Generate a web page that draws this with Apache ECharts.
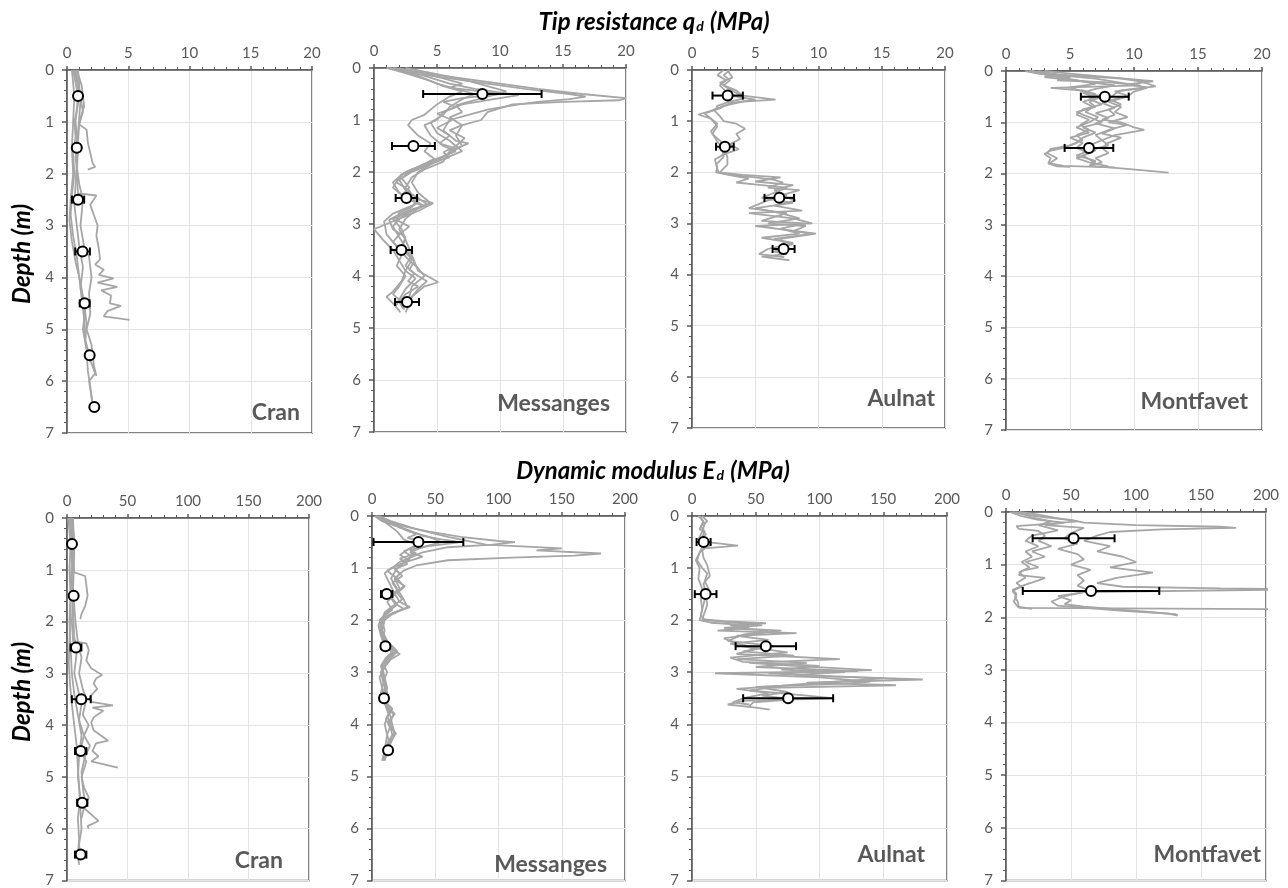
<!DOCTYPE html>
<html><head><meta charset="utf-8">
<script src="https://cdn.jsdelivr.net/npm/echarts@6/dist/echarts.min.js"></script>
<style>html,body{margin:0;padding:0;background:#fff}#c{width:1288px;height:888px}</style>
</head><body><div id="c"></div>
<script>
// ---------- DATA ----------
const SITES = ['Cran', 'Messanges', 'Aulnat', 'Montfavet'];
const QD_TICKS = [0, 5, 10, 15, 20];
const ED_TICKS = [0, 50, 100, 150, 200];
const DEPTH_TICKS = [0, 1, 2, 3, 4, 5, 6, 7];

// profiles: [value, depth]
const qdCran = [
  [[0.6,0],[0.8,0.2],[1.0,0.5],[0.8,0.8],[0.6,1.0],[0.7,1.3],[0.5,1.6],[0.6,2.0],[0.4,2.4],[0.3,2.8],[0.5,3.2],[0.8,3.6],[1.0,4.0],[1.2,4.4],[1.4,4.8],[1.5,5.2],[1.9,5.6],[2.3,5.85],[1.8,6.0],[2.0,6.3],[2.2,6.6]],
  [[0.8,0],[1.2,0.3],[1.4,0.7],[1.0,1.0],[0.9,1.4],[0.8,1.8],[0.7,2.2],[0.6,2.6],[0.8,3.0],[1.0,3.4],[1.3,3.8],[1.1,4.2],[1.5,4.6],[1.3,5.0],[1.6,5.4],[1.7,5.8],[1.9,6.1],[2.1,6.5]],
  [[0.7,0],[1.0,0.4],[1.3,0.8],[1.0,1.05],[1.6,1.15],[1.7,1.4],[1.9,1.6],[2.1,1.8],[2.3,1.87],[1.7,1.92]],
  [[0.5,0],[0.9,0.5],[0.7,1.0],[0.9,1.5],[0.8,2.0],[0.9,2.38],[2.4,2.42],[1.9,2.6],[2.2,2.8],[2.5,3.0],[2.4,3.2],[2.6,3.45],[2.7,3.65],[2.3,3.75],[3.0,3.85],[2.6,3.95],[3.8,4.02],[2.5,4.1],[4.1,4.18],[2.8,4.25],[3.6,4.35],[3.5,4.5],[4.4,4.55],[3.3,4.65],[3.0,4.75],[5.1,4.82]],
  [[0.4,0],[0.6,0.5],[0.5,1.0],[0.4,1.5],[0.5,2.0],[0.3,2.5],[0.2,2.9],[0.4,3.3],[0.7,3.7],[1.1,4.1],[1.4,4.5],[1.6,4.9],[1.5,5.2]],
  [[0.9,0],[1.1,0.6],[0.9,1.2],[0.7,1.7],[1.0,2.2],[1.3,2.5],[1.1,3.0],[1.4,3.4],[1.8,3.6],[2.0,4.0],[1.8,4.3],[1.9,4.7],[1.6,5.0],[2.0,5.3],[2.2,5.7],[2.4,5.9]]
];
const qdMessanges = [
  [[1.5,0],[4,0.1],[7,0.2],[10,0.3],[13,0.4],[16.5,0.5],[20,0.58],[19.5,0.62],[15,0.65],[11,0.7],[9,0.85],[8.5,1.0],[7,1.1],[6.5,1.3],[7,1.5],[5.5,1.7],[4.5,1.85],[3.5,2.0],[3,2.2],[3.5,2.4],[4.5,2.6],[3.5,2.7],[2.5,2.9],[2,3.1],[2.5,3.3],[3,3.6],[3.5,3.9],[5.1,4.12],[4,4.2],[3,4.4],[2.7,4.6],[2.5,4.7]],
  [[1.2,0],[3,0.1],[6,0.2],[9,0.3],[12,0.4],[15.5,0.5],[16.8,0.55],[15.5,0.6],[13,0.65],[11.5,0.7],[9,0.8],[7.5,0.9],[6,1.0],[5.5,1.2],[6.5,1.4],[7.5,1.45],[6,1.6],[5.5,1.8],[4,1.95],[3,2.1],[2.5,2.3],[3,2.5],[4.7,2.6],[3.5,2.75],[2.5,2.85],[1,3.0],[0,3.1],[0.7,3.3],[1.5,3.5],[2,3.7],[2.5,3.9],[2.2,4.1],[1.5,4.3],[1,4.4],[1.6,4.55],[2.1,4.7]],
  [[2,0],[4,0.15],[6,0.3],[8,0.4],[11.5,0.52],[9.5,0.6],[7,0.7],[5.5,0.85],[5,1.0],[4,1.1],[4.5,1.3],[5.5,1.5],[6.5,1.6],[5,1.75],[3.5,1.9],[2.5,2.0],[2,2.1],[1.5,2.3],[2.5,2.5],[3.5,2.6],[2.5,2.7],[1.5,2.8],[0.8,2.95],[1,3.2],[1.7,3.4],[2.2,3.6],[1.8,3.8],[2.5,4.0],[2,4.2],[1.5,4.35],[2.2,4.5],[2.4,4.65]],
  [[1,0],[2.5,0.1],[4.5,0.25],[5.5,0.35],[7,0.45],[6,0.55],[5,0.7],[4,0.9],[3,1.0],[2.7,1.1],[3.5,1.3],[4.5,1.45],[4,1.6],[4.8,1.75],[3.5,1.9],[2.2,2.05],[1.5,2.2],[2,2.4],[3,2.55],[3.8,2.65],[2.5,2.8],[1.5,2.9],[2.2,3.1],[2.5,3.3],[2,3.5],[2.8,3.7],[3.5,3.85],[4,4.0],[3,4.2],[2.8,4.4],[2.5,4.6]],
  [[1.5,0],[3.5,0.15],[5,0.3],[6.5,0.4],[8,0.5],[7,0.6],[6,0.75],[5.5,0.9],[4.5,1.05],[5,1.25],[6,1.4],[7,1.6],[6,1.7],[4.5,1.85],[3,2.0],[2,2.15],[2.5,2.35],[3.5,2.5],[4.2,2.62],[3,2.75],[2,2.9],[1.5,3.05],[2,3.25],[2.5,3.45],[3,3.7],[2.5,3.9],[3.3,4.05],[2.5,4.25],[2,4.45],[1.7,4.6]],
  [[2.5,0],[5,0.12],[7.5,0.25],[9,0.35],[10.5,0.45],[9,0.55],[8,0.62],[6.5,0.72],[7,0.85],[6,0.95],[7,1.1],[6,1.2],[7.2,1.35],[6.5,1.5],[5.5,1.62],[6,1.72],[4.2,1.85],[3,1.95],[2.2,2.05],[1.8,2.2],[2.8,2.35],[3.2,2.55],[4,2.65],[3,2.72],[2,2.82],[1.2,2.92],[1.5,3.1],[2.5,3.25],[2.2,3.45],[3,3.6],[2.5,3.8],[3.2,3.95],[2.7,4.1],[3.5,4.2],[2.5,4.35],[2,4.5],[2.3,4.62]],
  [[1,0],[3.5,0.08],[5.5,0.2],[7,0.3],[6,0.38],[8.5,0.45],[10,0.5],[7,0.58],[5.5,0.65],[6.5,0.75],[5,0.88],[6.2,1.0],[5,1.15],[6,1.3],[5.2,1.45],[6.5,1.55],[5.8,1.68],[4.5,1.78],[3.8,1.9],[2.8,2.0],[2.2,2.12],[2.8,2.3],[2.2,2.45],[3.3,2.58],[3,2.68],[2,2.78],[1.8,2.92],[2.8,3.05],[2,3.2],[1.5,3.35],[2.5,3.55],[3.2,3.72],[2.8,3.88],[3.5,4.0],[4.2,4.1],[3.5,4.25],[3,4.4],[2.8,4.55]]
];
const qdAulnat = [
  [[3,0],[2.5,0.1],[3,0.2],[2.5,0.3],[3.5,0.4],[4,0.5],[6.6,0.58],[4,0.62],[2.5,0.7],[1.5,0.8],[0.5,0.87],[1.5,0.95],[2,1.05],[1.5,1.2],[2,1.4],[2.5,1.55],[2.8,1.7],[2.8,1.85],[2.2,2.0],[3,2.05],[5,2.1],[6.5,2.15],[7.2,2.2],[6,2.3],[8.5,2.35],[7,2.45],[8.2,2.55],[6.5,2.65],[8.7,2.75],[4.5,2.8],[8,2.9],[9.5,3.0],[5,3.05],[9.8,3.2],[7,3.3],[7.5,3.45],[6.5,3.55],[7.5,3.6],[5.5,3.65],[7.7,3.72]],
  [[2.8,0],[3.2,0.15],[2.2,0.25],[2.8,0.35],[3.5,0.45],[4.2,0.55],[3,0.62],[2,0.7],[1.8,0.8],[2.2,0.9],[2.5,1.0],[3.5,1.05],[4.2,1.15],[3.5,1.25],[3.8,1.35],[3,1.45],[3.7,1.55],[2.5,1.65],[1.8,1.75],[2,1.9],[1.9,2.0],[3.5,2.08],[4.5,2.12],[3.5,2.2],[5.5,2.25],[7.5,2.3],[6.5,2.4],[5.5,2.5],[8,2.6],[5,2.7],[7,2.8],[8.5,2.9],[6,3.0],[9,3.05],[8,3.15],[9.5,3.2],[6.5,3.3],[8,3.4],[6.8,3.5],[7,3.62]],
  [[2.5,0],[2,0.1],[2.7,0.2],[2.2,0.3],[2.6,0.4],[3,0.5],[5,0.58],[3,0.65],[2.2,0.75],[1,0.85],[1.5,0.95],[2,1.1],[1.6,1.25],[2.3,1.4],[2.4,1.55],[2.5,1.7],[1.9,1.85],[2.1,2.0],[4,2.05],[7,2.1],[5,2.18],[8,2.25],[6.5,2.35],[7.5,2.45],[6,2.55],[4.5,2.7],[7.5,2.8],[5.5,2.95],[9,3.0],[7,3.1],[8.5,3.2],[5.5,3.28],[8,3.38],[6,3.5],[5.3,3.6],[7.3,3.66]]
];
const qdMontfavet = [
  [[2,0],[3,0.05],[6,0.1],[9,0.15],[10.5,0.2],[11.7,0.3],[9,0.38],[8.5,0.45],[8,0.55],[9,0.65],[8,0.75],[8.5,0.85],[7.5,0.95],[9,1.0],[10,1.1],[10.8,1.15],[8.5,1.25],[7.5,1.35],[8,1.45],[6.5,1.55],[5.5,1.65],[7,1.75],[6.5,1.85],[9,1.9],[12.7,1.98]],
  [[1.5,0],[2.5,0.05],[5,0.12],[4,0.18],[8,0.22],[10.5,0.28],[3.5,0.33],[6,0.38],[7,0.45],[6.5,0.55],[7.5,0.65],[6,0.75],[5.5,0.85],[6.5,0.95],[5.8,1.05],[6.5,1.15],[5.5,1.25],[6,1.35],[5,1.45],[3.5,1.52],[3.2,1.6],[4,1.7],[3.4,1.8],[4.5,1.85],[7,1.87],[8.5,1.88]],
  [[2.5,0],[4,0.08],[7,0.15],[9.5,0.25],[11,0.33],[10,0.4],[9.5,0.5],[8,0.6],[9,0.7],[8.5,0.8],[9.5,0.9],[8,1.0],[9.5,1.05],[8,1.15],[7,1.25],[7.5,1.35],[6.5,1.45],[7,1.55],[6,1.65],[6.5,1.72],[7,1.8]],
  [[2,0],[3.5,0.1],[5.5,0.18],[7,0.25],[5,0.32],[6,0.4],[7.5,0.5],[6.5,0.6],[7,0.7],[5.5,0.8],[6.5,0.9],[7.5,1.0],[6,1.1],[7,1.2],[6,1.3],[5.5,1.4],[4.5,1.5],[3.5,1.55],[3,1.62],[3.5,1.7],[3.3,1.8],[4,1.86],[5,1.87]],
  [[3,0],[5,0.05],[8,0.12],[11.5,0.2],[9.5,0.26],[11,0.32],[8.5,0.4],[9.5,0.48],[8.5,0.55],[7.5,0.62],[8.5,0.72],[7,0.82],[8,0.92],[7,1.02],[8.5,1.12],[7.5,1.22],[9,1.3],[8,1.4],[7.5,1.5],[8,1.6],[7,1.7],[7.5,1.78],[6.5,1.85]],
  [[1.8,0],[4,0.06],[3,0.12],[6,0.2],[8.5,0.28],[7,0.35],[6,0.42],[7,0.52],[6,0.6],[6.8,0.7],[6.2,0.8],[7.2,0.9],[6.5,1.0],[5.5,1.1],[6.5,1.2],[5,1.3],[6,1.4],[5.5,1.5],[6.5,1.6],[5.5,1.7],[6.5,1.78],[8,1.86]]
];
const edCran = [
  [[3,0],[5,0.3],[6,0.6],[4,0.9],[3,1.2],[3,1.6],[2.5,2.0],[2,2.4],[1.5,2.8],[2.5,3.2],[4,3.6],[6,4.0],[8,4.4],[9,4.8],[10,5.2],[11,5.6],[12,6.0],[10,6.3],[11,6.6]],
  [[4,0],[6,0.4],[5,0.8],[6,1.05],[15,1.12],[16,1.3],[17,1.5],[15,1.7],[12,1.85],[11,1.95]],
  [[2,0],[4,0.5],[4,1.0],[5,1.5],[4,2.0],[5,2.38],[16,2.42],[18,2.55],[16,2.75],[20,2.9],[29,3.03],[24,3.1],[22,3.2],[25,3.3],[19,3.45],[20,3.55],[38,3.62],[21,3.66],[30,3.72],[22,3.85],[20,3.95],[22,4.1],[34,4.3],[24,4.35],[21,4.5],[26,4.6],[20,4.7],[42,4.82]],
  [[3,0],[5,0.6],[4,1.2],[5,1.8],[6,2.3],[8,2.6],[6,3.0],[9,3.3],[12,3.6],[10,3.9],[14,4.2],[11,4.5],[16,4.7],[12,5.0],[14,5.2],[18,5.4],[14,5.6],[26,5.85],[17,5.95],[18,6.0]],
  [[1,0],[3,0.5],[2,1.0],[3,1.5],[2,2.0],[3,2.5],[4,3.0],[6,3.4],[9,3.8],[12,4.2],[10,4.6],[9,5.0],[11,5.4],[9,5.8],[10,6.2],[9,6.5],[10,6.7]],
  [[5,0],[6,0.7],[5,1.4],[7,2.0],[9,2.4],[12,2.7],[10,3.0],[13,3.3],[16,3.5],[13,3.8],[18,4.0],[14,4.2],[19,4.4],[15,4.6],[12,4.9],[13,5.2],[15,5.5],[12,5.8]]
];
const edMessanges = [
  [[3,0],[10,0.1],[25,0.2],[45,0.3],[70,0.4],[100,0.48],[113,0.5],[95,0.55],[60,0.6],[40,0.7],[30,0.8],[20,1.0],[15,1.2],[20,1.4],[25,1.6],[28,1.75],[15,1.9],[10,2.0],[8,2.2],[12,2.4],[20,2.6],[12,2.8],[8,3.0],[10,3.3],[12,3.6],[15,3.9],[18,4.2],[12,4.5],[10,4.7]],
  [[5,0],[15,0.1],[35,0.25],[60,0.4],[90,0.55],[150,0.62],[130,0.66],[181,0.72],[160,0.76],[110,0.8],[60,0.85],[35,0.95],[25,1.05],[18,1.2],[22,1.4],[15,1.55],[20,1.7],[12,1.85],[6,2.0],[8,2.2],[10,2.4],[15,2.55],[22,2.65],[15,2.75],[10,2.9],[6,3.1],[8,3.3],[10,3.5],[12,3.7],[17,3.8],[14,4.0],[16,4.2],[12,4.4],[9,4.6],[8,4.7]],
  [[2,0],[8,0.1],[20,0.2],[30,0.3],[45,0.4],[55,0.5],[40,0.6],[30,0.7],[40,0.78],[25,0.9],[15,1.0],[10,1.1],[14,1.3],[18,1.5],[12,1.65],[16,1.8],[8,1.95],[5,2.1],[7,2.3],[11,2.5],[16,2.6],[10,2.8],[7,3.0],[9,3.2],[7,3.4],[10,3.6],[13,3.8],[10,4.0],[12,4.2],[10,4.5],[11,4.65]],
  [[4,0],[12,0.15],[20,0.3],[25,0.45],[35,0.55],[28,0.65],[22,0.75],[30,0.85],[20,0.95],[12,1.05],[20,1.2],[25,1.35],[18,1.5],[22,1.65],[30,1.75],[18,1.85],[10,1.95],[7,2.1],[9,2.3],[13,2.45],[18,2.6],[12,2.75],[8,2.9],[10,3.1],[12,3.3],[9,3.5],[14,3.7],[18,3.8],[13,3.95],[18,4.15],[14,4.35],[10,4.55],[9,4.68]],
  [[3,0],[10,0.08],[18,0.18],[30,0.28],[40,0.38],[55,0.45],[70,0.5],[45,0.58],[30,0.65],[35,0.72],[22,0.82],[28,0.92],[18,1.02],[24,1.15],[16,1.28],[20,1.42],[14,1.55],[18,1.68],[25,1.78],[15,1.88],[8,1.98],[6,2.15],[9,2.35],[12,2.5],[16,2.62],[11,2.72],[7,2.88],[9,3.05],[11,3.25],[8,3.45],[12,3.62],[15,3.75],[11,3.9],[14,4.05],[19,4.18],[13,4.32],[11,4.5],[10,4.62]],
  [[6,0],[14,0.1],[22,0.22],[35,0.35],[28,0.42],[42,0.5],[35,0.58],[25,0.68],[32,0.78],[22,0.88],[17,0.98],[22,1.1],[18,1.22],[26,1.35],[20,1.48],[24,1.6],[17,1.72],[10,1.85],[8,2.0],[10,2.2],[8,2.38],[14,2.52],[19,2.62],[13,2.72],[9,2.85],[12,3.0],[9,3.18],[12,3.38],[10,3.55],[16,3.7],[12,3.85],[15,4.0],[12,4.2],[14,4.38],[11,4.55],[9,4.7]]
];
const edAulnat = [
  [[8,0],[12,0.1],[7,0.2],[10,0.3],[8,0.4],[12,0.5],[36,0.57],[10,0.62],[6,0.7],[4,0.85],[8,1.0],[12,1.1],[10,1.25],[13,1.4],[11,1.55],[12,1.7],[10,1.85],[8,1.98],[25,2.02],[58,2.06],[30,2.1],[45,2.15],[20,2.2],[82,2.25],[35,2.3],[60,2.38],[30,2.45],[50,2.55],[35,2.65],[116,2.75],[45,2.82],[80,2.88],[141,2.96],[60,3.02],[110,3.08],[181,3.14],[90,3.2],[160,3.25],[60,3.3],[45,3.35],[90,3.45],[110,3.5],[40,3.55],[28,3.62],[50,3.68],[61,3.72]],
  [[5,0],[9,0.1],[6,0.25],[11,0.35],[7,0.45],[15,0.55],[8,0.65],[9,0.8],[12,0.95],[14,1.15],[9,1.3],[11,1.5],[9,1.7],[7,1.9],[10,2.0],[35,2.05],[55,2.1],[25,2.15],[60,2.2],[40,2.28],[28,2.4],[65,2.5],[40,2.6],[80,2.68],[35,2.75],[90,2.82],[50,2.9],[130,2.98],[18,3.02],[100,3.1],[140,3.18],[120,3.22],[50,3.28],[75,3.38],[55,3.45],[80,3.52],[48,3.58],[45,3.65]],
  [[6,0],[10,0.15],[8,0.3],[5,0.45],[9,0.55],[6,0.7],[3,0.85],[6,1.0],[5,1.2],[8,1.4],[7,1.6],[8,1.8],[6,2.0],[15,2.05],[45,2.1],[30,2.15],[70,2.2],[45,2.28],[25,2.35],[35,2.45],[55,2.55],[75,2.62],[30,2.72],[40,2.8],[100,2.88],[70,2.95],[120,3.0],[80,3.05],[150,3.12],[100,3.2],[70,3.26],[35,3.32],[60,3.4],[40,3.5],[32,3.58],[45,3.62]]
];
const edMontfavet = [
  [[5,0],[15,0.05],[30,0.1],[50,0.15],[60,0.2],[100,0.25],[165,0.28],[177,0.3],[120,0.33],[80,0.38],[70,0.45],[60,0.55],[80,0.65],[70,0.75],[90,0.85],[100,0.95],[80,1.05],[113,1.15],[85,1.25],[70,1.35],[90,1.42],[165,1.45],[240,1.47],[60,1.52],[40,1.6],[50,1.68],[45,1.75],[60,1.8],[110,1.9],[130,1.94],[132,1.96]],
  [[10,0],[25,0.05],[40,0.12],[55,0.18],[35,0.22],[8,0.27],[10,0.32],[25,0.36],[30,0.45],[25,0.55],[35,0.65],[20,0.75],[30,0.85],[15,0.95],[25,1.05],[12,1.12],[10,1.2],[30,1.25],[25,1.3],[15,1.38],[5,1.48],[8,1.55],[7,1.62],[9,1.7],[10,1.82],[240,1.85]],
  [[3,0],[12,0.08],[25,0.15],[45,0.2],[30,0.25],[60,0.3],[50,0.4],[45,0.5],[55,0.6],[40,0.7],[55,0.8],[60,0.9],[50,1.0],[65,1.1],[55,1.2],[60,1.3],[55,1.4],[65,1.5],[45,1.6],[35,1.7],[40,1.78],[90,1.88],[125,1.93],[132,1.97]],
  [[8,0],[20,0.1],[35,0.18],[25,0.25],[40,0.35],[20,0.45],[15,0.55],[25,0.65],[15,0.75],[20,0.85],[12,0.95],[18,1.05],[10,1.15],[15,1.25],[8,1.35],[12,1.42],[5,1.5],[8,1.6],[6,1.7],[9,1.8],[20,1.84]]
];

// mean values with standard deviation: [mean, depth, sd]
const qdCranMean = [[0.9,0.5,0.2],[0.8,1.5,0.2],[0.9,2.5,0.5],[1.27,3.5,0.6],[1.44,4.5,0.4],[1.85,5.5,0.2],[2.23,6.5,0.25]];
const qdMessangesMean = [[8.6,0.5,4.7],[3.13,1.5,1.7],[2.57,2.5,0.85],[2.17,3.5,0.85],[2.62,4.5,0.95]];
const qdAulnatMean = [[2.82,0.5,1.2],[2.6,1.5,0.7],[6.9,2.5,1.17],[7.24,3.5,0.87]];
const qdMontfavetMean = [[7.72,0.5,1.87],[6.48,1.5,1.9]];
const edCranMean = [[4.1,0.5,1],[5.5,1.5,1.5],[7.4,2.5,4.5],[11.8,3.5,7.8],[11.3,4.5,4.7],[12.6,5.5,4.2],[11.3,6.5,4.7]];
const edMessangesMean = [[36.7,0.5,35.5],[11.6,1.5,4.5],[10.6,2.5,3],[9.5,3.5,3],[12.7,4.5,2.5]];
const edAulnatMean = [[9.1,0.5,5.5],[10.7,1.5,8.5],[57.9,2.5,23.7],[75.4,3.5,35.3]];
const edMontfavetMean = [[52,0.5,31.5],[65.4,1.5,52.5]];

// ---------- LAYOUT ----------
const GRIDS = [
  {left:67, top:70, width:245, height:363},
  {left:374, top:68, width:252, height:364},
  {left:692, top:70, width:253, height:358},
  {left:1006, top:71, width:256, height:359},
  {left:67, top:518, width:242, height:366},
  {left:372, top:516, width:253, height:367},
  {left:692, top:516, width:255, height:368},
  {left:1006, top:512, width:260, height:372}
];
const SITE_LABEL_POS = [[300,413],[610,404],[935,399],[1248,402],[283,861],[607,865],[925,855],[1261,855]];

const PROFILES = [qdCran, qdMessanges, qdAulnat, qdMontfavet, edCran, edMessanges, edAulnat, edMontfavet];
const MEANS = [qdCranMean, qdMessangesMean, qdAulnatMean, qdMontfavetMean, edCranMean, edMessangesMean, edAulnatMean, edMontfavetMean];

const GRAY = '#595959';
const FONT = 'Lato, "Open Sans", sans-serif';

const grid = [], xAxis = [], yAxis = [], series = [], graphic = [];
GRIDS.forEach((g, i) => {
  const ticks = i < 4 ? QD_TICKS : ED_TICKS;
  grid.push(Object.assign({show:true, borderColor:GRAY, borderWidth:1.5, backgroundColor:'transparent'}, g));
  xAxis.push({
    gridIndex:i, type:'value', position:'top',
    min:ticks[0], max:ticks[ticks.length-1], interval:ticks[1]-ticks[0],
    axisLine:{show:true, onZero:false, lineStyle:{color:GRAY, width:1.5}},
    axisTick:{show:true, length:4, lineStyle:{color:GRAY, width:1.5}},
    minorTick:{show:true, splitNumber:5, length:3, lineStyle:{color:GRAY, width:1}},
    splitLine:{show:true, lineStyle:{color:'#e3e3e3', width:1}},
    axisLabel:{color:GRAY, fontSize:15, margin:9, fontFamily:FONT}
  });
  yAxis.push({
    gridIndex:i, type:'value', inverse:true,
    min:DEPTH_TICKS[0], max:DEPTH_TICKS[DEPTH_TICKS.length-1], interval:1,
    axisLine:{show:true, onZero:false, lineStyle:{color:GRAY, width:1.5}},
    axisTick:{show:true, length:5, lineStyle:{color:GRAY, width:1.5}},
    minorTick:{show:true, splitNumber:5, length:3, lineStyle:{color:GRAY, width:1}},
    splitLine:{show:true, lineStyle:{color:'#e3e3e3', width:1}},
    axisLabel:{color:GRAY, fontSize:15, margin:13, fontFamily:FONT}
  });
  PROFILES[i].forEach(p => {
    series.push({type:'line', xAxisIndex:i, yAxisIndex:i, data:p, showSymbol:false, silent:true,
      lineStyle:{color:'#a6a6a6', width:1.8}, z:2, clip:true});
  });
  series.push({type:'custom', xAxisIndex:i, yAxisIndex:i, data:MEANS[i], z:3, silent:true,
    renderItem:function(params, api){
      const v = api.value(0), d = api.value(1), s = api.value(2);
      const a = api.coord([v - s, d]), b = api.coord([v + s, d]);
      const st = {stroke:'#000', lineWidth:2};
      return {type:'group', children:[
        {type:'line', shape:{x1:a[0], y1:a[1], x2:b[0], y2:b[1]}, style:st},
        {type:'line', shape:{x1:a[0], y1:a[1]-4, x2:a[0], y2:a[1]+4}, style:st},
        {type:'line', shape:{x1:b[0], y1:b[1]-4, x2:b[0], y2:b[1]+4}, style:st}
      ]};
    }});
  series.push({type:'scatter', xAxisIndex:i, yAxisIndex:i, data:MEANS[i].map(m => [m[0], m[1]]),
    symbol:'circle', symbolSize:10, z:4, silent:true,
    itemStyle:{color:'#ffffff', borderColor:'#000', borderWidth:2, opacity:1}});
  graphic.push({type:'text', x:SITE_LABEL_POS[i][0], y:SITE_LABEL_POS[i][1], z:10,
    style:{text:SITES[i % 4], align:'right', verticalAlign:'middle', fill:GRAY,
      font:'bold 23px ' + FONT}});
});

graphic.push({type:'text', x:22, y:254, rotation:Math.PI/2, z:10,
  style:{text:'Depth (m)', align:'center', verticalAlign:'middle', fill:'#000', font:'italic bold 24px ' + FONT}});
graphic.push({type:'text', x:22, y:692, rotation:Math.PI/2, z:10,
  style:{text:'Depth (m)', align:'center', verticalAlign:'middle', fill:'#000', font:'italic bold 24px ' + FONT}});

const titleRich = {
  a:{fontSize:24, fontWeight:'bold', fontStyle:'italic', color:'#000', fontFamily:FONT},
  s:{fontSize:14, fontWeight:'bold', fontStyle:'italic', color:'#000', fontFamily:FONT, padding:[9,1,0,1]}
};
const title = [
  {text:'{a|Tip resistance q}{s|d}{a| (MPa)}', left:649, top:5, textAlign:'center', textStyle:{rich:titleRich}},
  {text:'{a|Dynamic modulus E}{s|d}{a| (MPa)}', left:648, top:454, textAlign:'center', textStyle:{rich:titleRich}}
];

const chart = echarts.init(document.getElementById('c'), null, {renderer:'canvas'});
chart.setOption({animation:false, backgroundColor:'#fff', title, grid, xAxis, yAxis, series, graphic});
</script></body></html>
